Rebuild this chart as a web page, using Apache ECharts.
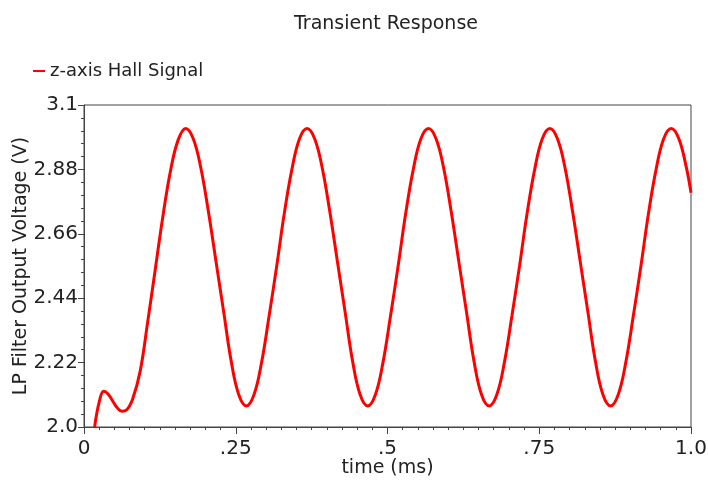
<!DOCTYPE html>
<html>
<head>
<meta charset="utf-8">
<script src="https://cdn.jsdelivr.net/npm/echarts@6/dist/echarts.min.js"></script>
<style>
  html, body { margin: 0; padding: 0; background: #fff; }
  #transient { width: 708px; height: 480px; }
</style>
</head>
<body>
<div id="transient"></div>
<script>
const title = "Transient Response";
const seriesName = "z-axis Hall Signal";
const yTicks = [2.0, 2.22, 2.44, 2.66, 2.88, 3.1];
const xTicks = [0, 0.25, 0.5, 0.75, 1.0];

// time (ms)
const timeMs = [
  0.0175, 0.025, 0.0325, 0.04, 0.0475, 0.055, 0.0625, 0.07, 0.08, 0.0925,
  0.105, 0.1175, 0.13, 0.1425, 0.155, 0.1675,
  0.18, 0.1925, 0.205, 0.2175, 0.23, 0.2425, 0.255, 0.2675,
  0.28, 0.2925, 0.305, 0.3175, 0.33, 0.3425, 0.355, 0.3675,
  0.38, 0.3925, 0.405, 0.4175, 0.43, 0.4425, 0.455, 0.4675,
  0.48, 0.4925, 0.505, 0.5175, 0.53, 0.5425, 0.555, 0.5675,
  0.58, 0.5925, 0.605, 0.6175, 0.63, 0.6425, 0.655, 0.6675,
  0.68, 0.6925, 0.705, 0.7175, 0.73, 0.7425, 0.755, 0.7675,
  0.78, 0.7925, 0.805, 0.8175, 0.83, 0.8425, 0.855, 0.8675,
  0.88, 0.8925, 0.905, 0.9175, 0.93, 0.9425, 0.955, 0.9675,
  0.98, 0.9925, 1.0
];

// LP filter output (V)
const hallSignal = [
  2.00, 2.085, 2.122, 2.112, 2.088, 2.065, 2.054, 2.058, 2.095, 2.19,
  2.36, 2.54, 2.72, 2.875, 2.98, 3.02,
  2.985, 2.885, 2.735, 2.565, 2.395, 2.225, 2.11, 2.072,
  2.11, 2.22, 2.38, 2.55, 2.73, 2.88, 2.985, 3.02,
  2.985, 2.885, 2.735, 2.565, 2.395, 2.225, 2.11, 2.072,
  2.11, 2.22, 2.38, 2.55, 2.73, 2.88, 2.985, 3.02,
  2.985, 2.885, 2.735, 2.565, 2.395, 2.225, 2.11, 2.072,
  2.11, 2.22, 2.38, 2.55, 2.73, 2.88, 2.985, 3.02,
  2.985, 2.885, 2.735, 2.565, 2.395, 2.225, 2.11, 2.072,
  2.11, 2.22, 2.38, 2.55, 2.73, 2.88, 2.985, 3.02,
  2.985, 2.885, 2.80
];

const points = timeMs.map(function (t, i) { return [t, hallSignal[i]]; });

const font = "DejaVu Sans";
const axisColor = "#444";
const textColor = "#222";

const transient = echarts.init(document.getElementById("transient"));

const option = {
  animation: false,
  backgroundColor: "#fff",
  title: {
    text: title,
    left: 381,
    textAlign: "center",
    top: 10,
    textStyle: { fontFamily: font, fontSize: 19, fontWeight: "normal", color: textColor }
  },
  legend: {
    data: [seriesName],
    left: 28,
    top: 57,
    icon: "rect",
    itemWidth: 12,
    itemHeight: 2,
    itemGap: 8,
    textStyle: { fontFamily: font, fontSize: 18, color: textColor }
  },
  grid: {
    left: 84,
    right: 17,
    top: 105,
    bottom: 53,
    outerBoundsMode: "none",
    containLabel: false,
    show: true,
    borderColor: axisColor,
    borderWidth: 1
  },
  xAxis: {
    type: "value",
    min: 0,
    max: 1,
    interval: 0.25,
    name: "time (ms)",
    nameLocation: "middle",
    nameGap: 32,
    nameMoveOverlap: false,
    nameTextStyle: { fontFamily: font, fontSize: 19, color: textColor },
    axisLine: { show: true, lineStyle: { color: axisColor } },
    axisTick: { show: true, length: 7, lineStyle: { color: axisColor } },
    minorTick: { show: true, splitNumber: 10, length: 3, lineStyle: { color: axisColor } },
    splitLine: { show: false },
    axisLabel: {
      margin: 12,
      fontFamily: font,
      fontSize: 20,
      color: textColor,
      showMaxLabel: true,
      formatter: function (v) {
        if (v === 0) return "0";
        if (v === 1) return "1.0";
        return String(v).replace(/^0/, "");
      }
    }
  },
  yAxis: {
    type: "value",
    min: 2.0,
    max: 3.1,
    interval: 0.22,
    name: "LP Filter Output Voltage (V)",
    nameLocation: "middle",
    nameGap: 53,
    nameMoveOverlap: false,
    nameTextStyle: { fontFamily: font, fontSize: 19, color: textColor },
    axisLine: { show: true, lineStyle: { color: axisColor } },
    axisTick: { show: true, length: 6, lineStyle: { color: axisColor } },
    minorTick: { show: true, splitNumber: 5, length: 3, lineStyle: { color: axisColor } },
    splitLine: { show: false },
    axisLabel: {
      margin: 6,
      fontFamily: font,
      fontSize: 20,
      color: textColor,
      formatter: function (v) {
        const hit = yTicks.find(function (t) { return Math.abs(t - v) < 1e-6; });
        if (hit === undefined) return "";
        return (hit === 2.0 || hit === 3.1) ? hit.toFixed(1) : hit.toFixed(2);
      }
    }
  },
  series: [
    {
      name: seriesName,
      type: "line",
      data: points,
      smooth: 0.4,
      showSymbol: false,
      clip: true,
      lineStyle: { color: "#ff0000", width: 3 },
      itemStyle: { color: "#ff0000" }
    }
  ]
};

transient.setOption(option);

window.addEventListener("resize", function () {
  transient.resize();
});
</script>
</body>
</html>
